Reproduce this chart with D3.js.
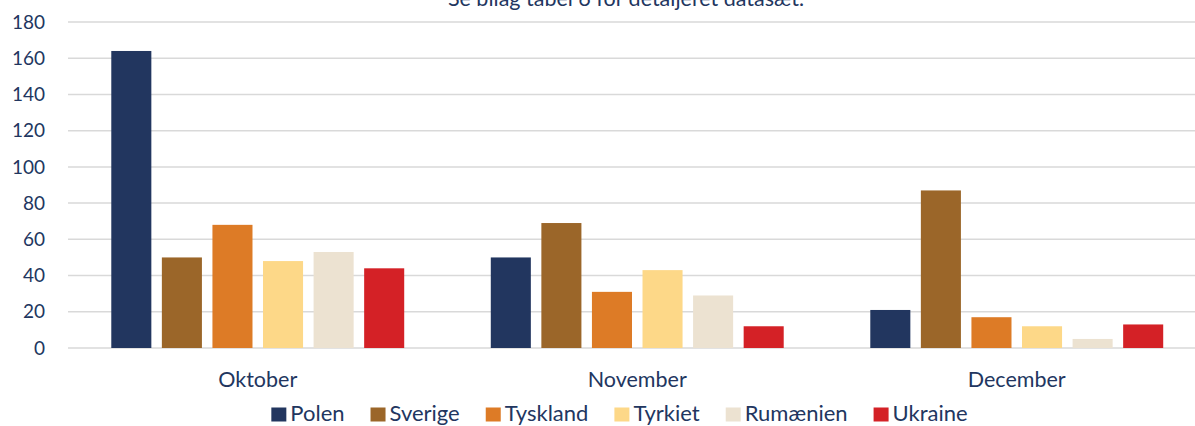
<!DOCTYPE html>
<html>
<head>
<meta charset="utf-8">
<script src="https://cdn.jsdelivr.net/npm/d3@7"></script>
<style>
  html, body { margin: 0; padding: 0; background: #fff; }
  svg { display: block; font-family: Lato, "Open Sans", sans-serif; }
</style>
</head>
<body>
<div id="chart"></div>
<script>
// måneder og lande
const months = ["Oktober", "November", "December"];
const countries = ["Polen", "Sverige", "Tyskland", "Tyrkiet", "Rumænien", "Ukraine"];
const colors = ["#22365f", "#9b6629", "#dd7b26", "#fdd888", "#ece2d1", "#d42126"];

// værdier pr. land (Okt, Nov, Dec)
const polen    = [164, 50, 21];
const sverige  = [50, 69, 87];
const tyskland = [68, 31, 17];
const tyrkiet  = [48, 43, 12];
const rumaenien = [53, 29, 5];
const ukraine  = [44, 12, 13];

const yTicks = [0, 20, 40, 60, 80, 100, 120, 140, 160, 180];
const note = "Se bilag tabel 6 for detaljeret datasæt.";

const series = [polen, sverige, tyskland, tyrkiet, rumaenien, ukraine];
const textColor = "#22365f";

const width = 1195, height = 426;
const margin = { top: 22, left: 68, bottom: 78 };
const plotRight = 68 + 3 * 379.5;

const svg = d3.select("#chart").append("svg")
  .attr("width", width)
  .attr("height", height);

const x0 = d3.scaleBand()
  .domain(months)
  .range([margin.left, plotRight]);

const x1 = d3.scaleBand()
  .domain(countries)
  .range([0, x0.bandwidth()])
  .paddingInner(0.208)
  .paddingOuter(0.856);

const y = d3.scaleLinear()
  .domain([0, 180])
  .range([height - margin.bottom, margin.top]);

// ── note (beskåret i toppen, som i originalen) ──
svg.append("text")
  .attr("x", 626)
  .attr("y", 6)
  .attr("text-anchor", "middle")
  .attr("fill", textColor)
  .style("font-size", "21.5px")
  .text(note);

// ── gridlines ──
svg.append("g")
  .selectAll("line")
  .data(yTicks)
  .join("line")
  .attr("x1", margin.left)
  .attr("x2", width)
  .attr("y1", d => y(d))
  .attr("y2", d => y(d))
  .attr("stroke", "#d9d9d9")
  .attr("stroke-width", 1.5);

// ── y-akse labels ──
svg.append("g")
  .selectAll("text")
  .data(yTicks)
  .join("text")
  .attr("x", 45)
  .attr("y", d => y(d))
  .attr("dy", "0.35em")
  .attr("text-anchor", "end")
  .attr("fill", textColor)
  .style("font-size", "19px")
  .text(d => d);

// ── søjler ──
const groups = svg.append("g")
  .selectAll("g")
  .data(months)
  .join("g")
  .attr("transform", m => `translate(${x0(m)},0)`);

groups.selectAll("rect")
  .data((m, mi) => countries.map((c, ci) => ({ c, ci, v: series[ci][mi] })))
  .join("rect")
  .attr("x", d => x1(d.c))
  .attr("width", x1.bandwidth())
  .attr("y", d => y(d.v))
  .attr("height", d => y(0) - y(d.v))
  .attr("fill", d => colors[d.ci]);

// ── x-akse labels ──
svg.append("g")
  .selectAll("text")
  .data(months)
  .join("text")
  .attr("x", m => x0(m) + x0.bandwidth() / 2)
  .attr("y", 387)
  .attr("text-anchor", "middle")
  .attr("fill", textColor)
  .style("font-size", "21.5px")
  .text(m => m);

// ── legend ──
const legend = svg.append("g");
const items = legend.selectAll("g")
  .data(countries)
  .join("g");

items.append("rect")
  .attr("width", 15)
  .attr("height", 14)
  .attr("y", -13.5)
  .attr("fill", (d, i) => colors[i]);

items.append("text")
  .attr("x", 19)
  .attr("fill", textColor)
  .style("font-size", "22px")
  .text(d => d);

let pos = 0;
const offsets = [];
items.each(function() {
  offsets.push(pos);
  const w = this.querySelector("text").getComputedTextLength();
  pos += 19 + w + 26;
});
const total = pos - 26;
const startX = 619.5 - total / 2;
items.attr("transform", (d, i) => `translate(${startX + offsets[i]},421)`);
</script>
</body>
</html>
